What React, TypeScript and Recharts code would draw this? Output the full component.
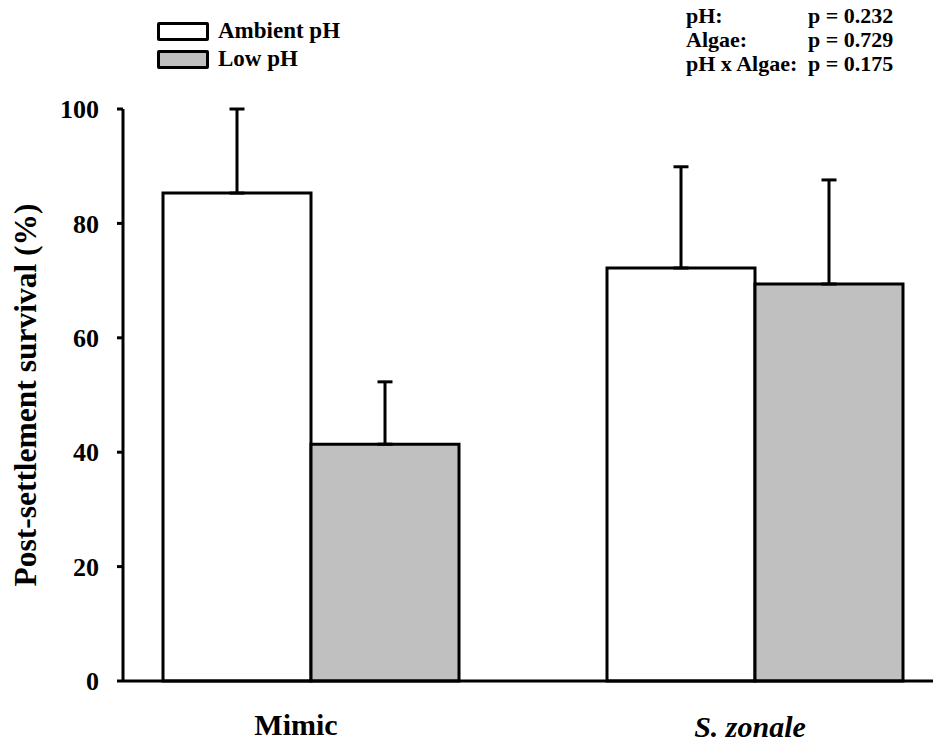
import React from 'react';
import { BarChart, Bar, XAxis, YAxis, ErrorBar, Legend } from 'recharts';

const categories = ['Mimic', 'S. zonale'];
const ambient = [85.3, 72.2];
const ambientErr = [14.7, 17.7];
const lowPh = [41.4, 69.4];
const lowPhErr = [10.9, 18.2];
const yTicks = [0, 20, 40, 60, 80, 100];

const stats = [
  { name: 'pH:', p: 'p = 0.232' },
  { name: 'Algae:', p: 'p = 0.729' },
  { name: 'pH x Algae:', p: 'p = 0.175' },
];

const data = categories.map((name, i) => ({
  name,
  ambient: ambient[i],
  ambientErr: [0, ambientErr[i]],
  low: lowPh[i],
  lowErr: [0, lowPhErr[i]],
}));

const FONT = '"Liberation Serif", "Times New Roman", serif';

// species name is italic and sits a bit lower, like in the original figure
const CategoryTick = ({ x, y, payload }: any) => {
  const italic = payload.value === 'S. zonale';
  return (
    <text
      x={x + (italic ? -5 : -15)}
      y={y + (italic ? 48 : 46)}
      textAnchor="middle"
      fontFamily={FONT}
      fontWeight="bold"
      fontStyle={italic ? 'italic' : 'normal'}
      fontSize={30}
      fill="#000"
    >
      {payload.value}
    </text>
  );
};

const YLabel = ({ viewBox }: any) => {
  const cx = viewBox.x + 25;
  const cy = viewBox.y + viewBox.height / 2;
  return (
    <text
      x={cx}
      y={cy}
      transform={`rotate(-90 ${cx} ${cy})`}
      textAnchor="middle"
      dominantBaseline="central"
      fontFamily={FONT}
      fontWeight="bold"
      fontSize={31.5}
      fill="#000"
    >
      Post-settlement survival (%)
    </text>
  );
};

const LegendBox = ({ payload }: any) => (
  <div style={{ fontFamily: FONT, fontWeight: 'bold', fontSize: 23 }}>
    {payload.map((entry: any) => (
      <div key={entry.value} style={{ display: 'flex', alignItems: 'center', height: 28 }}>
        <div
          style={{
            width: 46,
            height: 13,
            border: '3px solid #000',
            borderRadius: 2,
            background: entry.payload.fill,
            marginRight: 9,
          }}
        />
        <span>{entry.value}</span>
      </div>
    ))}
  </div>
);

export default function App() {
  return (
    <div style={{ position: 'absolute', left: 0, top: 0, width: 935, height: 742, background: '#fff' }}>
      <BarChart
        width={935}
        height={742}
        data={data}
        margin={{ top: 109, right: 2, bottom: 0, left: 0 }}
        barGap={0}
      >
        <XAxis
          dataKey="name"
          height={61}
          padding={{ left: -34, right: -44 }}
          axisLine={{ stroke: '#000', strokeWidth: 3 }}
          tickLine={false}
          tick={<CategoryTick />}
          interval={0}
        />
        <YAxis
          width={123}
          domain={[0, 100]}
          ticks={yTicks}
          interval={0}
          tickSize={6}
          tickMargin={18}
          axisLine={{ stroke: '#000', strokeWidth: 3 }}
          tickLine={{ stroke: '#000', strokeWidth: 3 }}
          tick={{ fill: '#000', fontFamily: FONT, fontWeight: 'bold', fontSize: 26 }}
          label={<YLabel />}
        />
        <Legend
          layout="vertical"
          verticalAlign="middle"
          align="center"
          content={<LegendBox />}
          wrapperStyle={{ top: 17, left: 157, width: 'auto' }}
        />
        <Bar
          dataKey="ambient"
          name="Ambient pH"
          fill="#ffffff"
          stroke="#000"
          strokeWidth={3}
          barSize={148}
          isAnimationActive={false}
        >
          <ErrorBar dataKey="ambientErr" direction="y" width={7.5} stroke="#000" strokeWidth={3} />
        </Bar>
        <Bar
          dataKey="low"
          name="Low pH"
          fill="#c0c0c0"
          stroke="#000"
          strokeWidth={3}
          barSize={148}
          isAnimationActive={false}
        >
          <ErrorBar dataKey="lowErr" direction="y" width={7.5} stroke="#000" strokeWidth={3} />
        </Bar>
      </BarChart>
      <div
        style={{
          position: 'absolute',
          left: 686,
          top: 4,
          fontFamily: FONT,
          fontWeight: 'bold',
          fontSize: 22,
          lineHeight: '24px',
        }}
      >
        {stats.map((s) => (
          <div key={s.name} style={{ display: 'flex' }}>
            <span style={{ width: 122, whiteSpace: 'nowrap' }}>{s.name}</span>
            <span style={{ whiteSpace: 'nowrap' }}>{s.p}</span>
          </div>
        ))}
      </div>
    </div>
  );
}
